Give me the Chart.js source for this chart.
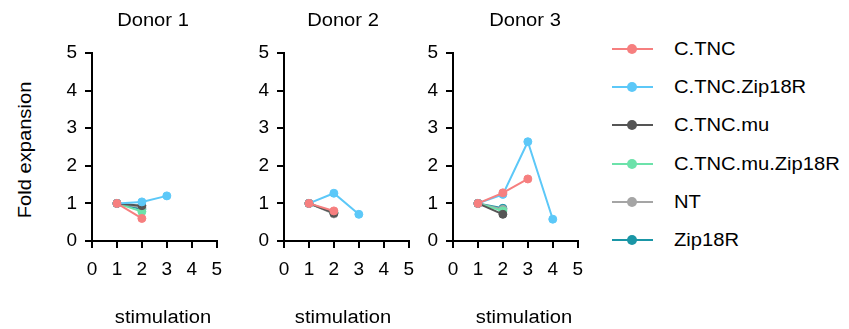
<!DOCTYPE html>
<html>
<head>
<meta charset="utf-8">
<script src="https://cdn.jsdelivr.net/npm/chart.js@4"></script>
<style>
  body { margin: 0; background: #fff; font-family: "Liberation Sans", Arial, sans-serif; color: #000; }
  #wrap { position: relative; width: 849px; height: 329px; overflow: hidden; }
  .panel { position: absolute; top: 0; }
  .lbl { position: absolute; font-size: 18px; white-space: nowrap; transform: translate(-50%, -50%) scaleX(1.12); }
  #ytitle { position: absolute; left: 25px; top: 150px; font-size: 18px; white-space: nowrap;
            transform: translate(-50%, -50%) rotate(-90deg) scaleX(1.12); }
  .leg { position: absolute; left: 612px; height: 20px; }
  .leg .ln { position: absolute; left: 0; top: 9px; width: 41px; height: 2px; }
  .leg .dot { position: absolute; left: 15px; top: 5px; width: 10px; height: 10px; border-radius: 50%; }
  .leg .tx { position: absolute; left: 62px; top: 0; font-size: 18px; line-height: 20px; white-space: nowrap;
             transform: scaleX(1.12); transform-origin: left center; }
</style>
</head>
<body>
<div id="wrap">
  <canvas id="c1" class="panel" width="180" height="329" style="left:52px"></canvas>
  <canvas id="c2" class="panel" width="180" height="329" style="left:244px"></canvas>
  <canvas id="c3" class="panel" width="180" height="329" style="left:413px"></canvas>
  <div class="lbl" style="left:153px; top:20px">Donor 1</div>
  <div class="lbl" style="left:343px; top:20px">Donor 2</div>
  <div class="lbl" style="left:525px; top:20px">Donor 3</div>
  <div class="lbl" style="left:163px; top:317px">stimulation</div>
  <div class="lbl" style="left:343px; top:317px">stimulation</div>
  <div class="lbl" style="left:524px; top:317px">stimulation</div>
  <div id="ytitle">Fold expansion</div>
  <div id="legend"></div>
</div>
<script>
// ===== Data =====
const seriesNames = ['C.TNC', 'C.TNC.Zip18R', 'C.TNC.mu', 'C.TNC.mu.Zip18R', 'NT', 'Zip18R'];
const seriesColors = ['#f67f7f', '#5cc8f8', '#555555', '#6ce2aa', '#a5a5a5', '#1a96a6'];
const stimulation = [1, 2, 3, 4];
const xTicks = [0, 1, 2, 3, 4, 5];
const yTicks = [0, 1, 2, 3, 4, 5];

// fold expansion per series, indexed by stimulation
const donor1 = [
  [1.0, 0.60],
  [1.0, 1.04, 1.20],
  [1.0, 0.94],
  [1.0, 0.78],
  [1.0, 0.90],
  [1.0, 0.85]
];
const donor2 = [
  [1.0, 0.80],
  [1.0, 1.27, 0.71],
  [1.0, 0.74],
  [1.0, 0.76],
  [1.0, 0.72],
  [1.0, 0.75]
];
const donor3 = [
  [1.0, 1.28, 1.65],
  [1.0, 1.24, 2.64, 0.58],
  [1.0, 0.71],
  [1.0, 0.80],
  [1.0, 0.84],
  [1.0, 0.87]
];

// ===== Chart =====
const FONT = { family: '"Liberation Sans", Arial, sans-serif', size: 19 };

function makePanel(id, values) {
  const datasets = values.map((vals, i) => ({
    label: seriesNames[i],
    data: vals.map((v, j) => ({ x: stimulation[j], y: v })),
    borderColor: seriesColors[i],
    backgroundColor: seriesColors[i],
    borderWidth: 2,
    pointRadius: 4,
    pointBorderWidth: 1,
    tension: 0
  }));

  const axis = (ticks, pad) => ({
    type: 'linear',
    min: 0,
    max: 5,
    afterBuildTicks: s => { s.ticks = ticks.map(v => ({ value: v })); },
    ticks: { color: '#000', font: FONT, padding: pad, autoSkip: false, maxRotation: 0 },
    grid: { display: true, drawOnChartArea: false, drawTicks: true, tickLength: 7, color: '#000', lineWidth: 2 },
    border: { display: true, color: '#000', width: 2 }
  });

  const x = axis(xTicks, 10);
  x.afterFit = s => { s.height = 88; };
  const y = axis(yTicks, 8);
  y.afterFit = s => { s.width = 40; };

  new Chart(document.getElementById(id), {
    type: 'line',
    data: { datasets },
    options: {
      responsive: false,
      animation: false,
      layout: { padding: { top: 53, right: 15, left: 0, bottom: 0 } },
      plugins: { legend: { display: false }, tooltip: { enabled: false } },
      scales: { x, y }
    }
  });
}

makePanel('c1', donor1);
makePanel('c2', donor2);
makePanel('c3', donor3);

// ===== Legend =====
const legend = document.getElementById('legend');
seriesNames.forEach((name, i) => {
  const item = document.createElement('div');
  item.className = 'leg';
  item.style.top = (39 + i * 38.2) + 'px';
  item.innerHTML = `
    <div class="ln" style="background:${seriesColors[i]}"></div>
    <div class="dot" style="background:${seriesColors[i]}"></div>
    <div class="tx">${name}</div>
  `;
  legend.appendChild(item);
});
</script>
</body>
</html>
